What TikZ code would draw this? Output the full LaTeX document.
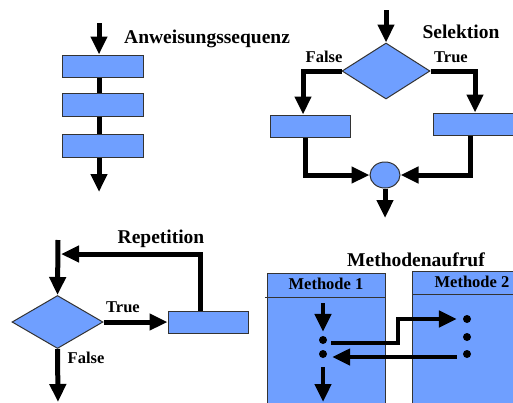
\documentclass[tikz,border=0pt]{standalone}
\usepackage{fontspec}
\setmainfont{Liberation Serif}
\usetikzlibrary{arrows.meta,shapes.geometric,calc}
\definecolor{boxblue}{HTML}{6F9FFF}
\definecolor{edge}{HTML}{333333}
\tikzset{
  blk/.style={rectangle,draw=edge,fill=boxblue,line width=1pt,inner sep=0pt},
  dia/.style={diamond,draw=edge,fill=boxblue,line width=1pt,inner sep=0pt},
  flow/.style={line width=5pt,-{Triangle[width=16pt,length=18pt]}},
  plain/.style={line width=5pt},
  title/.style={font=\fontsize{19.5}{22}\selectfont\bfseries,inner sep=0pt},
  lbl/.style={font=\fontsize{16.5}{19}\selectfont\bfseries,inner sep=0pt},
  dot/.style={circle,fill=black,inner sep=0pt,minimum size=8pt},
  frame/.style={draw=edge,line width=1pt},
}
\begin{document}
\begin{tikzpicture}[x=1pt,y=-1pt]
\useasboundingbox (0,0) rectangle (513,402);
% ---------- Anweisungssequenz ----------
\coordinate (s0) at (99,23);
\node[blk,minimum width=81pt,minimum height=22pt] (s1) at (102.5,66) {};
\node[blk,minimum width=81pt,minimum height=23pt] (s2) at (102.5,104.5) {};
\node[blk,minimum width=81pt,minimum height=23pt] (s3) at (102.5,145.5) {};
\coordinate (s4) at (99,192);
\draw[flow] (s0) -- (s0 |- s1.north);
\draw[plain] (s0 |- s1.south) -- (s0 |- s2.north);
\draw[plain] (s0 |- s2.south) -- (s0 |- s3.north);
\draw[flow] (s0 |- s3.south) -- (s4);
\node[title,anchor=west] (tseq) at (124,39) {Anweisungssequenz};
% ---------- Selektion ----------
\coordinate (c0) at (386,10);
\node[dia,minimum width=88pt,minimum height=56pt] (d1) at (386,71) {};
\node[blk,minimum width=80pt,minimum height=22pt] (L) at (310,126) {};
\node[blk,minimum width=80pt,minimum height=22pt] (R) at (473,124) {};
\node[ellipse,draw=edge,fill=boxblue,line width=1pt,inner sep=0pt,minimum width=30pt,minimum height=26pt] (E) at (385,175) {};
\coordinate (c1) at (385,218);
\draw[flow] (c0) -- (d1.north);
\draw[flow] (d1.west) -| ([xshift=-7pt]L.north);
\draw[flow] (d1.east) -| ([xshift=2pt]R.north);
\draw[flow] ([xshift=-5pt]L.south) |- (E.west);
\draw[flow] ([xshift=-3pt]R.south) |- (E.east);
\draw[flow] (E.south) -- (c1);
\node[title] (tsel) at (461,32) {Selektion};
\node[lbl] (fsel) at (324,57) {False};
\node[lbl] (wsel) at (451,57) {True};
% ---------- Repetition ----------
\coordinate (r0) at (58,240);
\node[dia,minimum width=91pt,minimum height=53pt] (D2) at (57.5,322) {};
\node[blk,minimum width=80pt,minimum height=22pt] (B) at (208,322) {};
\coordinate (rl) at (61,254);
\coordinate (r1) at (58,402);
\draw[flow] (r0) -- (D2.north);
\draw[flow] (D2.east) -- (B.west);
\draw[flow] ([xshift=-8pt]B.north) |- (rl);
\draw[flow] (D2.south) -- (r1);
\node[title] (trep) at (161,239) {Repetition};
\node[lbl] (wrep) at (123,307) {True};
\node[lbl] (frep) at (86,358) {False};
% ---------- Methodenaufruf ----------
\node[title] (tmeth) at (416,260) {Methodenaufruf};
\fill[boxblue] (267,273) rectangle (385,410);
\draw[frame] (267,410) -- (267,273) -- (385,273) -- (385,410);
\draw[frame] (265,297) -- (385,297);
\fill[boxblue] (412,271) rectangle (520,410);
\draw[frame] (412,410) -- (412,271) -- (520,271);
\draw[frame] (412,294) -- (520,294);
\node[lbl] (m1) at (326,284) {Methode 1};
\node[lbl] (m2) at (472,282) {Methode 2};
\node[dot] (m1a) at (323,340) {};
\node[dot] (m1b) at (323,354) {};
\node[dot] (m2a) at (467,319) {};
\node[dot] (m2b) at (467,337) {};
\node[dot] (m2c) at (467,354) {};
\coordinate (mt) at (323,303);
\coordinate (mb) at (323,402);
\coordinate (jog) at (398,330);
\draw[flow,line width=4.5pt] (mt) -- ([shift={(0,-4)}]m1a.north);
\draw[flow,line width=4.5pt] ([shift={(0,9)}]m1b.south) -- (mb);
\draw[flow,line width=4.5pt,line join=miter] ([shift={(4,3)}]m1a.east) -| (jog) |- ([xshift=-6pt]m2a.west);
\draw[flow,line width=4.5pt] ([shift={(-6,3)}]m2c.west) -- ([shift={(5,3)}]m1b.east);
\end{tikzpicture}
\end{document}
